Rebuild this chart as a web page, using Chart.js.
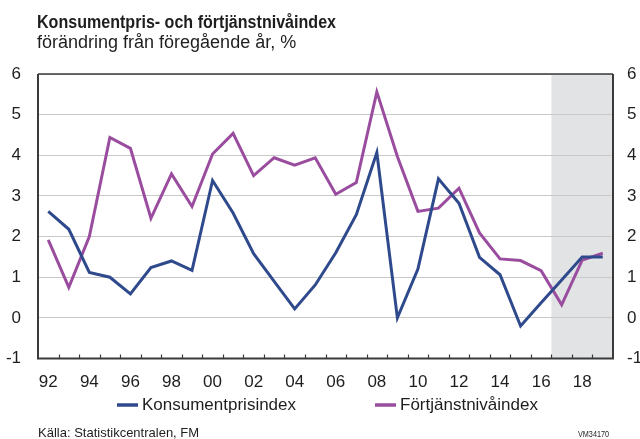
<!DOCTYPE html>
<html>
<head>
<meta charset="utf-8">
<script src="https://cdn.jsdelivr.net/npm/chart.js"></script>
<style>
    html, body { margin: 0; padding: 0; background: #fff; }
    #wrap { width: 640px; height: 439px; }
</style>
</head>
<body>
<div id="wrap"><canvas id="chart" width="640" height="439"></canvas></div>
<script>
// år 1992-2019
const years = ['92', '93', '94', '95', '96', '97', '98', '99', '00', '01', '02', '03', '04', '05',
    '06', '07', '08', '09', '10', '11', '12', '13', '14', '15', '16', '17', '18', '19'];

const konsumentpris = [2.62, 2.18, 1.12, 1.0, 0.59, 1.24, 1.40, 1.17, 3.38, 2.58, 1.58, 0.9, 0.22, 0.81,
    1.6, 2.54, 4.07, 0.0, 1.2, 3.42, 2.82, 1.49, 1.06, -0.2, 0.37, 0.93, 1.5, 1.5];

const fortjanst = [1.92, 0.75, 2.0, 4.44, 4.17, 2.45, 3.54, 2.74, 4.03, 4.54, 3.5, 3.94, 3.76, 3.94,
    3.04, 3.33, 5.56, 3.97, 2.62, 2.7, 3.19, 2.09, 1.45, 1.41, 1.16, 0.32, 1.42, 1.59];

const yTicks = [-1, 0, 1, 2, 3, 4, 5, 6];
const forecastFrom = '17';

const colors = {
    blue: '#2f4a8c',
    purple: '#9a4d9e',
    shade: '#e2e3e5',
    grid: '#c9c9c9',
    axis: '#3a3a3a',
    text: '#1e1e1e'
};

const FONT = "'Liberation Sans', Arial, sans-serif";

// shaded forecast area, tick marks, frame, titles, legend, source
const decor = {
    id: 'decor',
    beforeDraw(chart) {
        const ctx = chart.ctx;
        const a = chart.chartArea;
        const x = chart.scales.x;
        const x0 = x.getPixelForValue(years.indexOf(forecastFrom) - 0.5);
        ctx.save();
        ctx.fillStyle = colors.shade;
        ctx.fillRect(x0, a.top, a.right - x0, a.bottom - a.top);
        ctx.restore();
    },
    afterDatasetsDraw(chart) {
        const ctx = chart.ctx;
        const a = chart.chartArea;
        const x = chart.scales.x;
        ctx.save();
        ctx.strokeStyle = colors.axis;
        ctx.lineWidth = 1.2;
        for (let i = 1; i < years.length; i++) {
            const px = Math.round(x.getPixelForValue(i - 0.5)) + 0.5;
            ctx.beginPath();
            ctx.moveTo(px, a.bottom);
            ctx.lineTo(px, a.bottom - 4);
            ctx.stroke();
        }
        ctx.lineWidth = 2;
        ctx.beginPath();
        ctx.moveTo(a.left, a.top);
        ctx.lineTo(a.left, a.bottom);
        ctx.lineTo(a.right, a.bottom);
        ctx.lineTo(a.right, a.top);
        ctx.stroke();
        ctx.lineWidth = 1.4;
        ctx.beginPath();
        ctx.moveTo(a.left, a.top);
        ctx.lineTo(a.right, a.top);
        ctx.stroke();
        ctx.restore();
    },
    afterDraw(chart) {
        const ctx = chart.ctx;
        ctx.save();
        ctx.fillStyle = colors.text;
        ctx.textAlign = 'left';
        ctx.textBaseline = 'alphabetic';
        ctx.font = 'bold 18px ' + FONT;
        ctx.fillText('Konsumentpris- och förtjänstnivåindex', 37, 28, 299);
        ctx.font = '18px ' + FONT;
        ctx.fillText('förändring från föregående år, %', 37, 48);

        // legend
        const legendX = [117, 375];
        ctx.font = '17px ' + FONT;
        ctx.textBaseline = 'middle';
        chart.data.datasets.forEach(function (ds, i) {
            ctx.strokeStyle = ds.borderColor;
            ctx.lineWidth = 3.5;
            ctx.beginPath();
            ctx.moveTo(legendX[i], 405);
            ctx.lineTo(legendX[i] + 21, 405);
            ctx.stroke();
            ctx.fillStyle = colors.text;
            ctx.fillText(ds.label, legendX[i] + 25, 405);
        });

        ctx.textBaseline = 'alphabetic';
        ctx.font = '13px ' + FONT;
        ctx.fillText('Källa: Statistikcentralen, FM', 38, 437, 162);
        ctx.font = '9.5px ' + FONT;
        ctx.fillText('VM34170', 578, 437, 31);
        ctx.restore();
    }
};

new Chart(
    document.getElementById('chart').getContext('2d'),
    {
        type: 'line',
        data: {
            labels: years,
            datasets: [{
                label: 'Konsumentprisindex',
                data: konsumentpris,
                borderColor: colors.blue,
                backgroundColor: colors.blue,
                borderWidth: 3,
                pointRadius: 0,
                tension: 0,
                yAxisID: 'y'
            }, {
                label: 'Förtjänstnivåindex',
                data: fortjanst,
                borderColor: colors.purple,
                backgroundColor: colors.purple,
                borderWidth: 3,
                pointRadius: 0,
                tension: 0,
                yAxisID: 'y'
            }]
        },
        options: {
            responsive: false,
            animation: false,
            layout: {
                padding: {top: 74, bottom: 50.5, left: 0, right: 0}
            },
            plugins: {
                legend: {display: false},
                title: {display: false},
                tooltip: {enabled: false}
            },
            scales: {
                x: {
                    type: 'category',
                    offset: true,
                    grid: {display: false, drawTicks: false},
                    border: {display: false},
                    ticks: {
                        autoSkip: false,
                        maxRotation: 0,
                        padding: 14,
                        color: colors.text,
                        font: {family: FONT, size: 17},
                        callback: function (value, index) {
                            return index % 2 === 0 ? years[index] : '';
                        }
                    },
                    afterFit: function (scale) {
                        scale.height = 30;
                    }
                },
                y: {
                    position: 'left',
                    min: yTicks[0],
                    max: yTicks[yTicks.length - 1],
                    grid: {color: colors.grid, lineWidth: 1, drawTicks: false},
                    border: {display: false},
                    afterBuildTicks: function (scale) {
                        scale.ticks = yTicks.map(v => ({value: v}));
                    },
                    ticks: {
                        padding: 17,
                        color: colors.text,
                        font: {family: FONT, size: 17}
                    },
                    afterFit: function (scale) {
                        scale.width = 38;
                    }
                },
                y2: {
                    position: 'right',
                    min: yTicks[0],
                    max: yTicks[yTicks.length - 1],
                    grid: {display: false, drawTicks: false},
                    border: {display: false},
                    afterBuildTicks: function (scale) {
                        scale.ticks = yTicks.map(v => ({value: v}));
                    },
                    ticks: {
                        padding: 14,
                        color: colors.text,
                        font: {family: FONT, size: 17}
                    },
                    afterFit: function (scale) {
                        scale.width = 27;
                    }
                }
            }
        },
        plugins: [decor]
    });
</script>
</body>
</html>
